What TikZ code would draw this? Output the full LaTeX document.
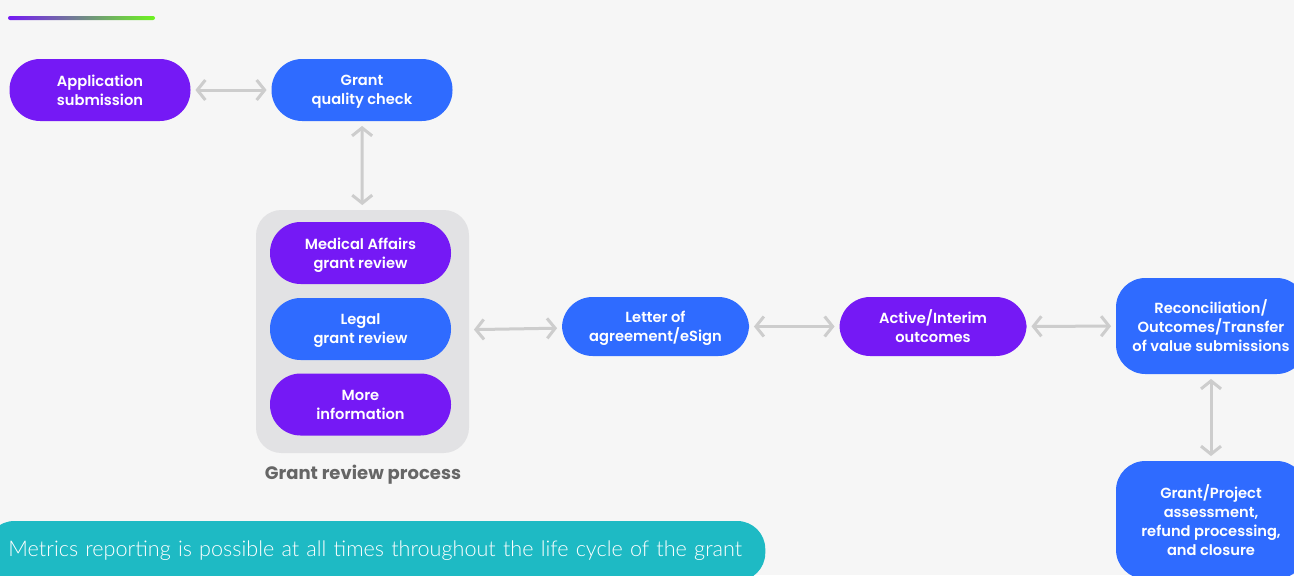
\documentclass[tikz,border=0pt]{standalone}
\usepackage{fontspec}
\setmainfont{Poppins}[BoldFont={* SemiBold}]
\newfontfamily\heavyfont{Poppins}[UprightFont={* Bold}]
\newfontfamily\thinfont{Lato}[UprightFont={* Light}]
\usetikzlibrary{arrows.meta}

\definecolor{pagegray}{HTML}{F6F6F6}
\definecolor{appviolet}{HTML}{7519F5}
\definecolor{appblue}{HTML}{2F6BFF}
\definecolor{appgreen}{HTML}{6DF51E}
\definecolor{panelgray}{HTML}{E2E2E4}
\definecolor{linkgray}{HTML}{CDCDCD}
\definecolor{labelgray}{HTML}{666666}
\definecolor{metricsteal}{HTML}{1EBAC4}

\begin{document}
\begin{tikzpicture}[x=0.75pt,y=-0.75pt,
  box/.style={rectangle,rounded corners=23pt,text=white,align=center,inner sep=0pt,
    font=\bfseries\fontsize{11}{14.25}\selectfont,text depth=0pt,
    minimum width=135.75pt,minimum height=46.5pt},
  violet box/.style={box,fill=appviolet},
  blue box/.style={box,fill=appblue},
  wide/.style={minimum width=140.25pt,minimum height=44.25pt},
  link/.style={draw=linkgray,line width=2.25pt,
    {Straight Barb[length=6pt,width=15pt]}-{Straight Barb[length=6pt,width=15pt]},
    shorten <=3.5pt,shorten >=3.5pt}]

\useasboundingbox (0,0) rectangle (1294,575);
\clip (0,0) rectangle (1294,575);
\fill[pagegray] (0,0) rectangle (1294,575);

% colour strip at the top
\shade[left color=appviolet,middle color=appblue,right color=appgreen,rounded corners=1.5pt]
  (8,16) rectangle (155,20);

% first row
\node[violet box] (apply) at (100,90) {Application\\submission};
\node[blue box] (quality) at (362,90) {Grant\\quality check};

% review panel
\node[fill=panelgray,rounded corners=19pt,minimum width=159.75pt,minimum height=182.25pt] (review) at (362.5,331.5) {};
\node[violet box] (medical) at (360.5,253) {Medical Affairs\\grant review};
\node[blue box] (legal) at (360.5,329) {Legal\\grant review};
\node[violet box] (more) at (360.5,404.5) {More\\information};
\node[font=\heavyfont\fontsize{13.5}{16}\selectfont,text=labelgray] (reviewlabel) at (363,475) {Grant review process};

% middle row
\node[blue box,wide] (letter) at (655.5,326.5) {Letter of\\agreement/eSign};
\node[violet box,wide] (active) at (933,326.5) {Active/Interim\\outcomes};
\node[blue box,rounded corners=22pt,minimum width=142.5pt,minimum height=72pt] (recon) at (1211,326) {Reconciliation/\\Outcomes/Transfer\\of value submissions};
\node[blue box,rounded corners=22pt,minimum width=142.5pt,minimum height=88.5pt] (closure) at (1211,520) {Grant/Project\\assessment,\\refund processing,\\and closure};

% connectors
\draw[link] (apply) -- (quality);
\draw[link] (quality) -- (review);
\draw[link] (review) -- (letter);
\draw[link] (letter) -- (active);
\draw[link] (active) -- (recon);
\draw[link] (recon) -- (closure);

% metrics bar
\node[fill=metricsteal,rounded corners=21pt,anchor=west,minimum width=584.25pt,minimum height=45pt,
  inner xsep=16.5pt,text width=551pt,align=left,text=white,font=\thinfont\fontsize{16.2}{19}\selectfont]
  (metrics) at (-14,551) {Metrics reporting is possible at all times throughout the life cycle of the grant};

\end{tikzpicture}
\end{document}
